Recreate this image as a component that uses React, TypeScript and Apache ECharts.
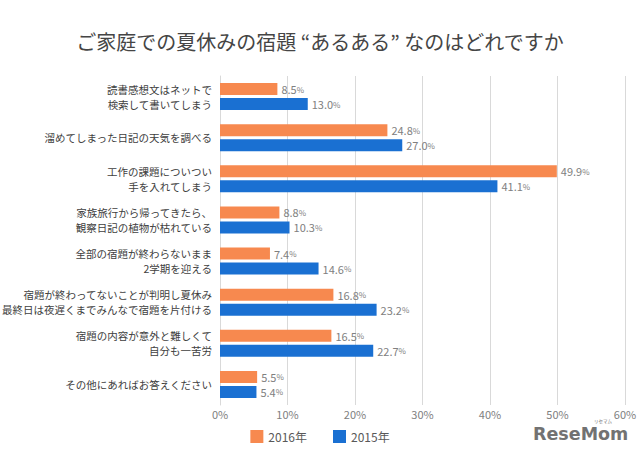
import React, { useEffect, useRef } from "react";
import * as echarts from "echarts";

const titleText = "ご家庭での夏休みの宿題 “あるある” なのはどれですか";
const categories = [
  "読書感想文はネットで\n検索して書いてしまう",
  "溜めてしまった日記の天気を調べる",
  "工作の課題についつい\n手を入れてしまう",
  "家族旅行から帰ってきたら、\n観察日記の植物が枯れている",
  "全部の宿題が終わらないまま\n2学期を迎える",
  "宿題が終わってないことが判明し夏休み\n最終日は夜遅くまでみんなで宿題を片付ける",
  "宿題の内容が意外と難しくて\n自分も一苦労",
  "その他にあればお答えください",
];
const values2016 = [8.5, 24.8, 49.9, 8.8, 7.4, 16.8, 16.5, 5.5];
const values2015 = [13.0, 27.0, 41.1, 10.3, 14.6, 23.2, 22.7, 5.4];
const seriesNames = ["2016年", "2015年"];

const FONT = "'Noto Sans CJK JP', 'Noto Sans', sans-serif";

export default function App() {
  const ref = useRef<HTMLDivElement>(null);
  useEffect(() => {
    if (!ref.current) return;
    const chart = echarts.init(ref.current, undefined, { renderer: "svg" });
    const label = {
      show: true,
      position: "right",
      distance: 4,
      color: "#808080",
      fontFamily: FONT,
      fontSize: 11,
      formatter: (p: any) => `{v|${Number(p.value).toFixed(1)}}{p|%}`,
      rich: {
        v: { color: "#808080", fontSize: 11, fontFamily: FONT },
        p: { color: "#808080", fontSize: 8, fontFamily: FONT },
      },
    };
    chart.setOption({
      animation: false,
      backgroundColor: "#ffffff",
      textStyle: { fontFamily: FONT },
      title: {
        text: titleText,
        left: "center",
        top: 26,
        textStyle: { fontSize: 20, fontWeight: "normal", color: "#454545", fontFamily: FONT },
      },
      legend: {
        top: 425,
        left: "center",
        itemWidth: 13,
        itemHeight: 13,
        itemGap: 26,
        icon: "rect",
        textStyle: { color: "#595959", fontSize: 12, fontFamily: FONT },
        data: seriesNames,
      },
      grid: { left: 220, right: 15, top: 76, bottom: 47, containLabel: false, outerBoundsMode: "none" },
      xAxis: {
        type: "value",
        min: 0,
        max: 60,
        interval: 10,
        axisLabel: { formatter: "{value}%", color: "#808080", fontSize: 11, margin: 3, fontFamily: FONT },
        axisLine: { show: false },
        axisTick: { show: false },
        splitLine: { show: true, lineStyle: { color: "#d9d9d9", width: 1 } },
      },
      yAxis: {
        type: "category",
        inverse: true,
        data: categories,
        axisLine: { show: true, lineStyle: { color: "#d9d9d9" } },
        axisTick: { show: false },
        axisLabel: { color: "#404040", fontSize: 10.5, lineHeight: 15, margin: 8, fontFamily: FONT },
      },
      series: [
        {
          name: seriesNames[0],
          type: "bar",
          data: values2016,
          barWidth: 12,
          barGap: "25%",
          itemStyle: { color: "#F7894F" },
          label,
        },
        {
          name: seriesNames[1],
          type: "bar",
          data: values2015,
          barWidth: 12,
          barGap: "25%",
          itemStyle: { color: "#1A70D2" },
          label,
        },
      ],
      graphic: [
        {
          type: "text",
          left: 533,
          top: 425,
          style: { text: "ReseMom", fontSize: 17.5, fontWeight: "bold", fill: "#727272", fontFamily: "'DejaVu Sans', sans-serif" },
        },
        {
          type: "text",
          left: 594,
          top: 419,
          style: { text: "リセマム", fontSize: 4.5, fill: "#727272", fontFamily: FONT },
        },
      ],
    });
    return () => chart.dispose();
  }, []);
  return <div ref={ref} style={{ position: "fixed", left: 0, top: 0, width: 640, height: 452 }} />;
}
